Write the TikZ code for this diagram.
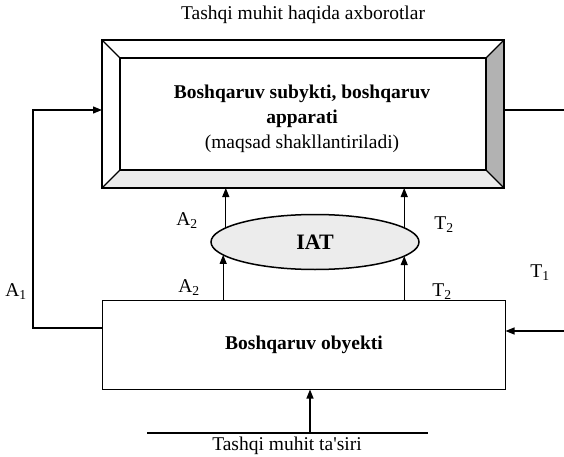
\documentclass[tikz,border=0pt]{standalone}
\usepackage{fontspec}
\setmainfont{Liberation Serif}
\usetikzlibrary{shapes.geometric,arrows.meta,backgrounds}

\begin{document}
\begin{tikzpicture}[x=1pt, y=-1pt, line width=1.2pt,
  every node/.style={font=\fontsize{19.5}{25}\selectfont, inner sep=0pt, outer sep=0pt},
  box/.style={draw, line width=1.7pt},
  inbox/.style={draw, line width=1.3pt},
  arr/.style={-{Triangle[length=9pt, width=7pt]}}]
  \useasboundingbox (0,0) rectangle (564,457);
  \node (info) at (303,15) {Tashqi muhit haqida axborotlar};
  % boshqaruv subyekti (bevelled box)
  \node[box, minimum width=402pt, minimum height=148pt] (sub) at (303,114) {};
  \node[inbox, minimum width=366pt, minimum height=112pt] (subin) at (303,114) {};
  \node[align=center] (subtxt) at (302,119) {\textbf{Boshqaruv subykti, boshqaruv}\\\textbf{apparati}\\(maqsad shakllantiriladi)};
  \begin{scope}[on background layer]
    \fill[gray!60] (sub.north east) -- (subin.north east) -- (subin.south east) -- (sub.south east) -- cycle;
    \fill[gray!15] (sub.south west) -- (subin.south west) -- (subin.south east) -- (sub.south east) -- cycle;
  \end{scope}
  \foreach \c in {north west, north east, south west, south east}
    \draw[line width=1.3pt] (sub.\c) -- (subin.\c);
  % IAT
  \node[draw, ellipse, line width=1.5pt, fill=gray!15, minimum width=208pt, minimum height=55pt,
    font=\fontsize{22}{25}\selectfont\bfseries] (iat) at (315,242) {IAT};
  % boshqaruv obyekti
  \node[box, minimum width=403pt, minimum height=89pt, font=\fontsize{19.5}{22}\selectfont\bfseries] (obj) at (304,345) {Boshqaruv obyekti};
  \draw[arr] (obj.north -| iat.188.7) -- (iat.188.7);
  \draw[arr] (obj.north -| iat.-9.1) -- (iat.-9.1);
  \draw[arr] (iat.171.3) -- (iat.171.3 |- sub.south);
  \draw[arr] (iat.9.1) -- (iat.9.1 |- sub.south);
  % feedback A1
  \coordinate (a1) at (33,220);
  \draw[arr] ([yshift=17pt]obj.west) -| (a1) |- ([yshift=4pt]sub.west);
  % T1 and output
  \coordinate (t1) at (564,331);
  \draw[arr] (t1) -- (t1 -| obj.east);
  \coordinate (out) at (564,110);
  \draw (out -| sub.east) -- (out);
  % tashqi muhit
  \coordinate (gl) at (147,433);
  \coordinate (gr) at (428,433);
  \draw[line width=1.8pt] (gl) -- (gr);
  \coordinate (ga) at (310,433);
  \draw[arr] (ga) -- (ga |- obj.south);
  \node (env) at (287,446) {Tashqi muhit ta\textquotesingle siri};
  % labels
  \node (a2u) at (187,221) {A\textsubscript{2}};
  \node (t2u) at (444,225) {T\textsubscript{2}};
  \node (a2l) at (189,288) {A\textsubscript{2}};
  \node (t2l) at (442,292) {T\textsubscript{2}};
  \node (a1l) at (16,292) {A\textsubscript{1}};
  \node (t1l) at (540,273) {T\textsubscript{1}};
\end{tikzpicture}
\end{document}
